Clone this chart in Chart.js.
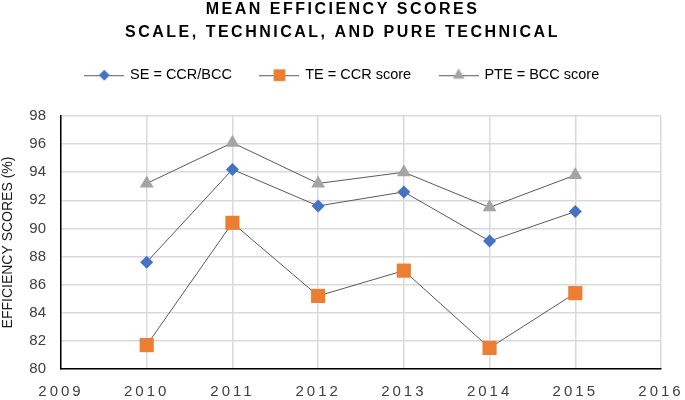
<!DOCTYPE html>
<html>
<head>
<meta charset="utf-8">
<script src="https://cdn.jsdelivr.net/npm/chart.js@4.4.1/dist/chart.umd.min.js"></script>
<style>
  html, body { margin: 0; padding: 0; background: #fff; }
  #wrap { width: 685px; height: 400px; }
</style>
</head>
<body>
<div id="wrap"><canvas id="effChart"></canvas></div>
<script>
// chart values
const years = [2010, 2011, 2012, 2013, 2014, 2015];
const seScores = [87.6, 94.2, 91.6, 92.6, 89.1, 91.2];
const teScores = [81.7, 90.4, 85.2, 87.0, 81.5, 85.4];
const pteScores = [93.2, 96.1, 93.2, 94.0, 91.5, 93.8];
const seriesNames = ['SE = CCR/BCC', 'TE = CCR score', 'PTE = BCC score'];
const titleLines = ['MEAN EFFICIENCY SCORES', 'SCALE, TECHNICAL, AND PURE TECHNICAL'];

const lineColor = '#595959';

function toPoints(vals) {
    return years.map((y, i) => ({ x: y, y: vals[i] }));
}

// little legend symbol: line with the marker on it
function legendIcon(style, color, r) {
    const c = document.createElement('canvas');
    c.width = 40; c.height = 16;
    const g = c.getContext('2d');
    g.strokeStyle = lineColor;
    g.lineWidth = 1;
    g.beginPath(); g.moveTo(0, 8.5); g.lineTo(40, 8.5); g.stroke();
    g.fillStyle = color;
    Chart.helpers.drawPoint(g, { pointStyle: style, radius: r, borderWidth: 0 }, 20, 8);
    g.fill();
    return c;
}

// apply letter spacing to some boxes (title, x labels)
function spaced(obj, fn, sp) {
    if (!obj || obj['_sp_' + fn]) return;
    const orig = obj[fn];
    obj[fn] = function() {
        const c = this.ctx;
        c.save();
        c.letterSpacing = sp;
        orig.apply(this, arguments);
        c.restore();
    };
    obj['_sp_' + fn] = true;
}
const layoutTweaks = {
    id: 'layoutTweaks',
    beforeLayout(chart) {
        // leave more room under the legend, like the original
        const lg = chart.legend;
        if (lg && !lg._fixed) {
            const fit = lg.fit;
            lg.fit = function() { fit.apply(this, arguments); this.height = 77; };
            lg._fixed = true;
        }
    },
    beforeDraw(chart) {
        spaced(chart.titleBlock, 'draw', '2.5px');
        spaced(chart.scales.x, 'drawLabels', '3px');
    }
};

const datasets = [
    { label: seriesNames[0], data: toPoints(seScores), pointStyle: 'rectRot', pointRadius: 6.5, color: '#4472C4' },
    { label: seriesNames[1], data: toPoints(teScores), pointStyle: 'rect', pointRadius: 10, color: '#ED7D31' },
    { label: seriesNames[2], data: toPoints(pteScores), pointStyle: 'triangle', pointRadius: 8, color: '#A5A5A5' }
].map(d => ({
    label: d.label,
    data: d.data,
    borderColor: lineColor,
    borderWidth: 1,
    backgroundColor: d.color,
    pointStyle: d.pointStyle,
    pointRadius: d.pointRadius,
    pointHoverRadius: d.pointRadius,
    pointBackgroundColor: d.color,
    pointBorderColor: d.color,
    pointBorderWidth: 0,
    tension: 0,
    clip: false,
    icon: legendIcon(d.pointStyle, d.color, d.pointRadius * 0.8)
}));

const ctx = document.getElementById('effChart').getContext('2d');
const chart = new Chart(ctx, {
    type: 'line',
    data: { datasets: datasets },
    plugins: [layoutTweaks],
    options: {
        responsive: true,
        maintainAspectRatio: false,
        animation: false,
        layout: { padding: { left: 0, right: 0, top: 0, bottom: 0 } },
        plugins: {
            tooltip: { enabled: false },
            title: {
                display: true,
                text: titleLines,
                color: '#000',
                font: { family: 'Liberation Sans', size: 16, weight: 'bold', lineHeight: '23px' },
                padding: { top: -1.5, bottom: -5.5 }
            },
            legend: {
                display: true,
                labels: {
                    usePointStyle: true,
                    pointStyleWidth: 37,
                    padding: 29,
                    color: '#333',
                    font: { family: 'Liberation Sans', size: 14.5 },
                    generateLabels(ch) {
                        return ch.data.datasets.map((ds, i) => ({
                            text: ds.label,
                            pointStyle: ds.icon,
                            fillStyle: ds.backgroundColor,
                            strokeStyle: ds.backgroundColor,
                            lineWidth: 0,
                            hidden: false,
                            datasetIndex: i
                        }));
                    }
                }
            }
        },
        scales: {
            x: {
                type: 'linear',
                min: 2009,
                max: 2016,
                afterFit(scale) {
                    scale.paddingRight = 24;
                    scale.height = 31;
                },
                ticks: {
                    stepSize: 1,
                    color: '#404040',
                    font: { family: 'Liberation Sans', size: 15 },
                    padding: 14,
                    callback: v => String(v)
                },
                grid: { color: '#d9d9d9', lineWidth: 1.5, drawTicks: false },
                border: { color: '#000', width: 1.5 }
            },
            y: {
                min: 80,
                max: 98,
                afterFit(scale) { scale.width = 61; },
                ticks: {
                    stepSize: 2,
                    color: '#404040',
                    font: { family: 'Liberation Sans', size: 15 },
                    padding: 15
                },
                grid: { color: '#d9d9d9', lineWidth: 1.5, drawTicks: false },
                border: { color: '#000', width: 1.5 },
                title: {
                    display: true,
                    text: 'EFFICIENCY SCORES (%)',
                    color: '#1a1a1a',
                    font: { family: 'Liberation Sans', size: 14 },
                    padding: { top: 0, bottom: 2 }
                }
            }
        }
    }
});
</script>
</body>
</html>
